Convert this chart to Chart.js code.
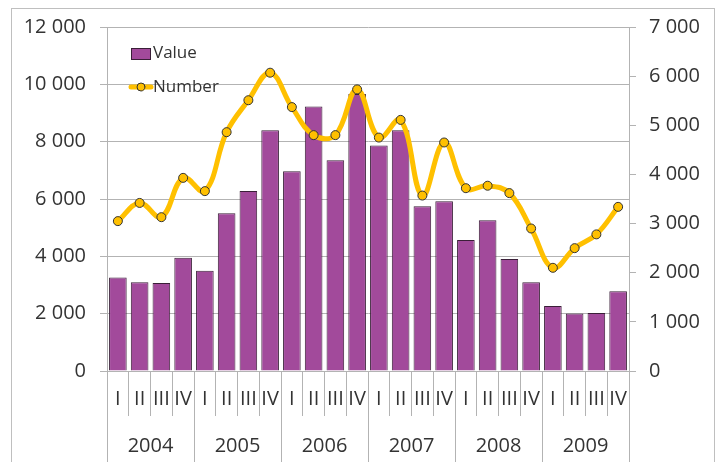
<!DOCTYPE html>
<html>
<head>
<meta charset="utf-8">
<script src="https://cdn.jsdelivr.net/npm/chart.js@4.4.1/dist/chart.umd.min.js"></script>
<style>
  html, body { margin: 0; padding: 0; background: #fff; }
  #wrap { width: 724px; height: 462px; position: relative; }
</style>
</head>
<body>
<div id="wrap"><canvas id="chart" width="724" height="462"></canvas></div>
<script>
  const quarters = ["I", "II", "III", "IV"]
  const years = ["2004", "2005", "2006", "2007", "2008", "2009"]
  const labels = years.flatMap(() => quarters)

  // left axis (bars)
  const valueData = [
    3260, 3100, 3070, 3950,
    3500, 5500, 6280, 8400,
    6970, 9230, 7350, 9660,
    7870, 8400, 5750, 5920,
    4570, 5260, 3910, 3100,
    2270, 2010, 2020, 2780
  ]
  // right axis (line)
  const numberData = [
    3050, 3420, 3130, 3930,
    3660, 4860, 5510, 6070,
    5370, 4800, 4800, 5730,
    4750, 5110, 3570, 4650,
    3720, 3770, 3620, 2900,
    2100, 2500, 2780, 3340
  ]

  const FONT = "'Open Sans', 'DejaVu Sans', sans-serif"
  const TEXT = "#333333"
  const GRID = "#b3b3b3"
  const PURPLE = "#a24a9b"
  const YELLOW = "#ffc000"

  const fmt = (v) => String(v).replace(/\B(?=(\d{3})+(?!\d))/g, " ")

  const frame = {
    id: "frame",
    beforeDraw(chart) {
      const c = chart.ctx
      c.save()
      c.strokeStyle = "#bfbfbf"
      c.lineWidth = 1
      c.strokeRect(11.5, 8.5, 703, 520)
      c.restore()
    }
  }

  const legendBox = {
    id: "legendBox",
    afterDraw(chart) {
      const c = chart.ctx
      const a = chart.chartArea
      const x = a.left + 24
      c.save()
      c.font = "17px " + FONT
      c.textBaseline = "middle"
      // Value
      c.fillStyle = PURPLE
      c.fillRect(x, a.top + 21, 19, 11)
      c.strokeStyle = "#3a1f38"
      c.lineWidth = 1
      c.strokeRect(x + 0.5, a.top + 21.5, 19, 11)
      c.fillStyle = TEXT
      c.fillText("Value", x + 22, a.top + 26)
      // Number
      c.strokeStyle = YELLOW
      c.lineWidth = 5
      c.lineCap = "round"
      c.beginPath()
      c.moveTo(x, a.top + 60)
      c.lineTo(x + 20, a.top + 60)
      c.stroke()
      c.beginPath()
      c.arc(x + 10, a.top + 60, 4, 0, Math.PI * 2)
      c.fillStyle = YELLOW
      c.fill()
      c.lineWidth = 1
      c.strokeStyle = "#333"
      c.stroke()
      c.fillStyle = TEXT
      c.fillText("Number", x + 22, a.top + 60)
      c.restore()
    }
  }

  new Chart(document.getElementById("chart"), {
    data: {
      labels: labels,
      datasets: [
        {
          type: "line",
          label: "Number",
          data: numberData,
          yAxisID: "y1",
          xAxisID: "x",
          borderColor: YELLOW,
          borderWidth: 5,
          tension: 0.4,
          pointRadius: 4.5,
          pointBackgroundColor: YELLOW,
          pointBorderColor: "#333",
          pointBorderWidth: 1,
          order: 0
        },
        {
          type: "bar",
          label: "Value",
          data: valueData,
          yAxisID: "y",
          xAxisID: "x",
          backgroundColor: PURPLE,
          borderColor: "#3a1f38",
          borderWidth: 1,
          categoryPercentage: 1,
          barPercentage: 0.81,
          order: 1
        }
      ]
    },
    options: {
      responsive: false,
      animation: false,
      devicePixelRatio: 1,
      layout: { padding: { top: 27, left: 0, right: 0, bottom: 0 } },
      plugins: {
        legend: { display: false },
        tooltip: { enabled: false }
      },
      scales: {
        x: {
          type: "category",
          position: "bottom",
          offset: true,
          grid: { offset: true, drawOnChartArea: false, drawTicks: true, tickLength: 45, color: GRID },
          border: { display: true, color: GRID },
          ticks: { color: TEXT, font: { family: FONT, size: 20 }, padding: -29, maxRotation: 0, autoSkip: false },
          afterFit: (s) => { s.height = 45 }
        },
        x2: {
          type: "category",
          position: "bottom",
          labels: years,
          offset: true,
          grid: { offset: true, drawOnChartArea: false, drawTicks: true, tickLength: 46, color: GRID },
          border: { display: false },
          ticks: { color: TEXT, font: { family: FONT, size: 20 }, padding: -28, maxRotation: 0, autoSkip: false },
          afterFit: (s) => { s.height = 46 }
        },
        y: {
          position: "left",
          min: 0,
          max: 12000,
          ticks: { stepSize: 2000, color: TEXT, font: { family: FONT, size: 20 }, padding: 14, callback: (v) => fmt(v) },
          grid: { color: GRID, tickLength: 7 },
          border: { display: true, color: GRID },
          afterFit: (s) => { s.width = 107 }
        },
        y1: {
          position: "right",
          min: 0,
          max: 7000,
          ticks: { stepSize: 1000, color: TEXT, font: { family: FONT, size: 20 }, padding: 13, callback: (v) => fmt(v) },
          grid: { drawOnChartArea: false, color: GRID, tickLength: 7 },
          border: { display: true, color: GRID },
          afterFit: (s) => { s.width = 95 }
        }
      }
    },
    plugins: [frame, legendBox]
  })
</script>
</body>
</html>
